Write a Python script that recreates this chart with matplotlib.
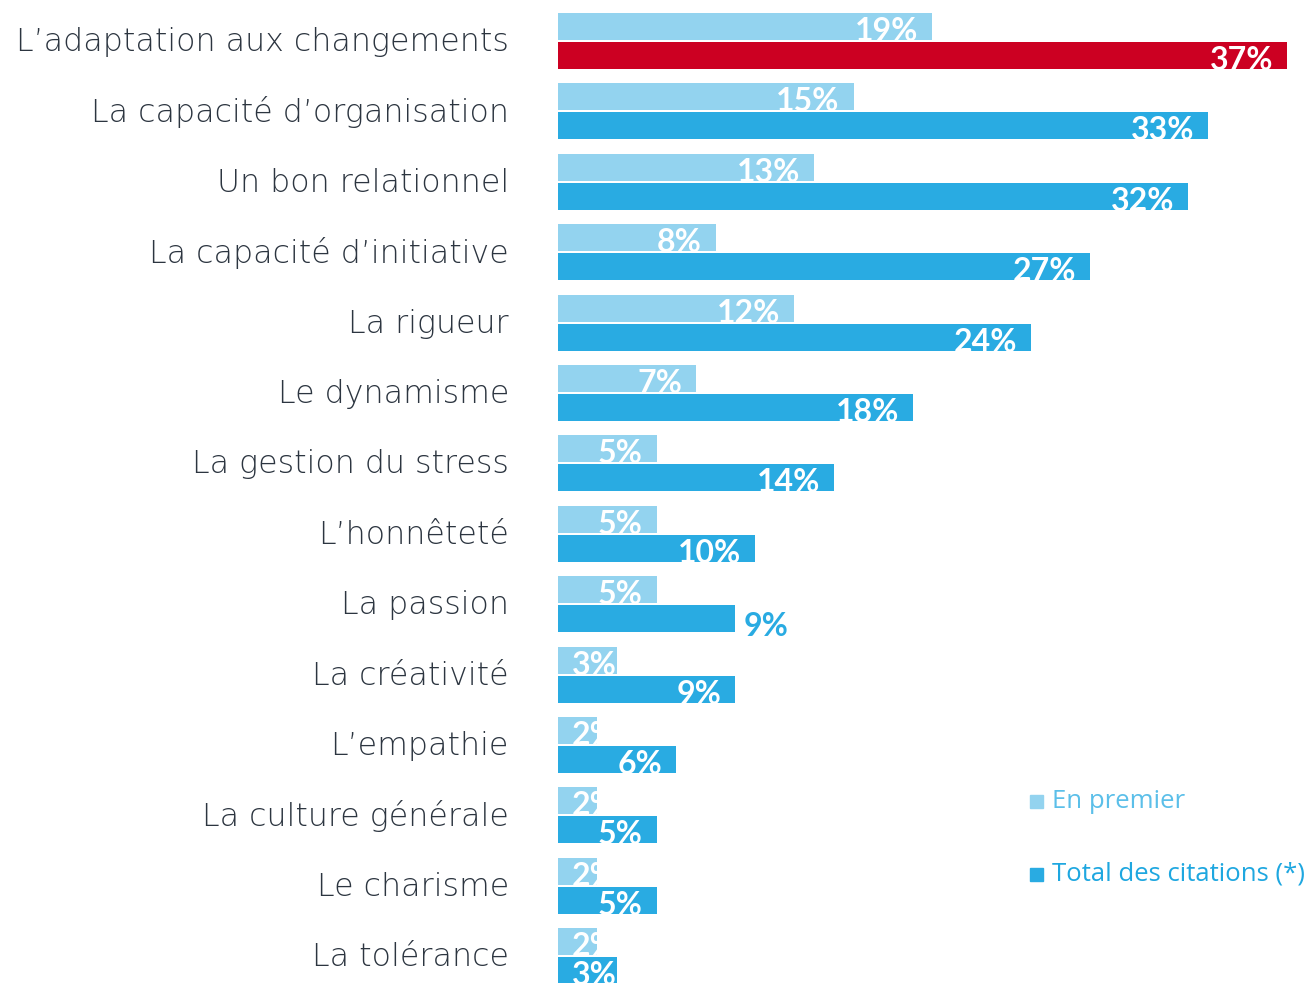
import matplotlib
matplotlib.use("Agg")
import matplotlib.pyplot as plt

categories = ["L\u2019adaptation aux changements", "La capacité d\u2019organisation",
              "Un bon relationnel", "La capacité d\u2019initiative", "La rigueur",
              "Le dynamisme", "La gestion du stress", "L\u2019honnêteté", "La passion",
              "La créativité", "L\u2019empathie", "La culture générale", "Le charisme",
              "La tolérance"]
en_premier = [19, 15, 13, 8, 12, 7, 5, 5, 5, 3, 2, 2, 2, 2]
total = [37, 33, 32, 27, 24, 18, 14, 10, 9, 9, 6, 5, 5, 3]
legend_labels = ["En premier", "Total des citations (*)"]

LIGHT = "#93d3ef"
DARK = "#29abe2"
RED = "#cc0022"
GREY = "#2c3540"

W, H = 1310, 983
fig = plt.figure(figsize=(W / 100, H / 100), dpi=100)
x0 = 558
ppu = 19.70
ax = fig.add_axes([x0 / W, 0, 1 - x0 / W, 1])
pitch = 70.4
c0 = 41
ax.set_xlim(0, (W - x0) / ppu)
ax.set_ylim((H - c0) / pitch, -c0 / pitch)
ax.axis("off")

bh = 27 / pitch
off = (27 / 2 + 1) / pitch

for i, (cat, p, t) in enumerate(zip(categories, en_premier, total)):
    yl = i - off
    yd = i + off
    bl = ax.barh(yl, p, height=bh, color=LIGHT, linewidth=0)[0]
    bd = ax.barh(yd, t, height=bh, color=RED if i == 0 else DARK, linewidth=0)[0]
    for val, bar, yc in ((p, bl, yl), (t, bd, yd)):
        if val == 9 and bar is bd and i == 8:
            ax.text(val + 0.4, yc + bh / 2 + 4 / pitch, f"{val}%", ha="left", va="baseline",
                    color=DARK, fontsize=23, fontweight="bold", family="Lato")
            continue
        xt = max(val - 0.7, 3.0)
        txt = ax.text(xt, yc + bh / 2 + 1 / pitch, f"{val}%", ha="right", va="baseline",
                      color="white", fontsize=23, fontweight="bold", family="Lato")
        txt.set_clip_path(bar)
    fig.text(509 / W, 1 - (c0 + 1 + i * pitch) / H, cat, ha="right", va="center",
             fontsize=22.8, color=GREY, family="DejaVu Sans", fontweight="light")

for k, (lab, col, tcol, yy) in enumerate(zip(legend_labels, [LIGHT, DARK], ["#5bbfe9", "#1ea7e0"], [801, 874])):
    fig.patches.append(plt.Rectangle((1030 / W, 1 - (yy + 7) / H), 13 / W, 13 / H,
                                     transform=fig.transFigure, color=col, figure=fig))
    fig.text(1052 / W, 1 - yy / H, lab, ha="left", va="center", fontsize=18.5,
             color=tcol, family="Open Sans")

fig.savefig("out.png", dpi=100)
